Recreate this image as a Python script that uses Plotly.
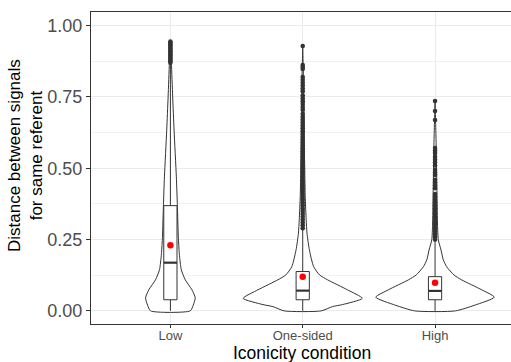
import plotly.graph_objects as go

categories = ["Low", "One-sided", "High"]
q1 = [0.039, 0.039, 0.039]
medians = [0.169, 0.071, 0.070]
q3 = [0.369, 0.138, 0.120]
whisker_low = [0.0, 0.0, 0.0]
whisker_high = [0.865, 0.285, 0.245]
means = [0.230, 0.120, 0.099]

outliers_low = [0.944, 0.940, 0.935, 0.930, 0.925, 0.920, 0.915, 0.910, 0.905,
                0.900, 0.895, 0.890, 0.885, 0.880, 0.875, 0.870]
outliers_one = [0.929, 0.862, 0.855, 0.848, 0.820, 0.810, 0.800, 0.790, 0.780,
                0.770, 0.755, 0.745, 0.735, 0.725, 0.715, 0.705, 0.690, 0.680,
                0.670, 0.660, 0.650, 0.640, 0.630, 0.620, 0.610, 0.600, 0.590,
                0.580, 0.570, 0.560, 0.550, 0.540, 0.530, 0.520, 0.510, 0.500,
                0.490, 0.480, 0.470, 0.460, 0.450, 0.440, 0.430, 0.420, 0.410,
                0.400, 0.390, 0.380, 0.370, 0.360, 0.350, 0.340, 0.330, 0.320,
                0.310, 0.300, 0.290]
outliers_high = [0.736, 0.701, 0.669, 0.571, 0.562, 0.554, 0.540, 0.530, 0.520,
                 0.510, 0.494, 0.485, 0.477, 0.460, 0.450, 0.440, 0.430, 0.410,
                 0.400, 0.390, 0.380, 0.370, 0.360, 0.350, 0.340, 0.330, 0.320,
                 0.310, 0.300, 0.290, 0.280, 0.270, 0.260, 0.250]
outliers = [outliers_low, outliers_one, outliers_high]

# violin profiles: y levels and relative density
violin_y_low = [0.0, 0.02, 0.046, 0.074, 0.109, 0.144, 0.2, 0.26, 0.372, 0.47,
                0.634, 0.75, 0.87, 0.944]
violin_d_low = [20, 23, 25, 21.7, 15, 11, 9, 8, 7, 6, 3.7, 2.3, 1, 0]
violin_y_one = [0.0, 0.015, 0.022, 0.044, 0.074, 0.109, 0.126, 0.155, 0.214,
                0.273, 0.32, 0.4, 0.5, 0.6, 0.7, 0.8, 0.929]
violin_d_one = [18.7, 30, 40, 60, 45, 25, 17, 11, 6.7, 4.3, 3.5, 2.5, 2, 1.5,
                1.2, 0.8, 0]
violin_y_high = [0.0, 0.02, 0.048, 0.074, 0.109, 0.126, 0.155, 0.179, 0.214,
                 0.249, 0.3, 0.4, 0.5, 0.6, 0.736]
violin_d_high = [20.5, 40, 59.7, 47, 26.7, 19, 11.7, 8.3, 6, 3.3, 2.5, 2, 1.5,
                 1, 0]
violin_y = [violin_y_low, violin_y_one, violin_y_high]
violin_d = [violin_d_low, violin_d_one, violin_d_high]

DARK = "#333333"
FONT = "Liberation Sans, Arial, sans-serif"
max_d = max(max(d) for d in violin_d)
half_max = 0.45
box_w = 0.1

fig = go.Figure()

# violins
for i, (ys, ds) in enumerate(zip(violin_y, violin_d)):
    hw = [d / max_d * half_max for d in ds]
    xs = [i + h for h in hw] + [i - h for h in reversed(hw)]
    yy = list(ys) + list(reversed(ys))
    xs.append(xs[0])
    yy.append(yy[0])
    fig.add_trace(go.Scatter(x=xs, y=yy, mode="lines", fill="toself",
                             fillcolor="white",
                             line=dict(color=DARK, width=1, shape="spline",
                                       smoothing=0.6),
                             hoverinfo="skip", showlegend=False))

# boxes (drawn from the box statistics)
for i in range(3):
    # whiskers
    fig.add_trace(go.Scatter(x=[i, i], y=[whisker_low[i], q1[i]], mode="lines",
                             line=dict(color=DARK, width=1),
                             hoverinfo="skip", showlegend=False))
    fig.add_trace(go.Scatter(x=[i, i], y=[q3[i], whisker_high[i]], mode="lines",
                             line=dict(color=DARK, width=1),
                             hoverinfo="skip", showlegend=False))
    # box
    xl, xr = i - box_w / 2, i + box_w / 2
    fig.add_trace(go.Scatter(x=[xl, xr, xr, xl, xl],
                             y=[q1[i], q1[i], q3[i], q3[i], q1[i]],
                             mode="lines", fill="toself", fillcolor="white",
                             line=dict(color=DARK, width=1),
                             hoverinfo="skip", showlegend=False))
    # median
    fig.add_trace(go.Scatter(x=[xl, xr], y=[medians[i], medians[i]],
                             mode="lines", line=dict(color=DARK, width=2.2),
                             hoverinfo="skip", showlegend=False))
    # outliers
    fig.add_trace(go.Scatter(x=[i] * len(outliers[i]), y=outliers[i],
                             mode="markers",
                             marker=dict(color=DARK, size=4.6),
                             hoverinfo="skip", showlegend=False))

# means
fig.add_trace(go.Scatter(x=[0, 1, 2], y=means, mode="markers",
                         marker=dict(color="red", size=6.5),
                         hoverinfo="skip", showlegend=False))

fig.update_layout(
    width=511, height=362,
    margin=dict(l=91, r=0, t=12, b=38),
    paper_bgcolor="white", plot_bgcolor="white",
    font=dict(family=FONT),
    xaxis=dict(range=[-0.6, 2.574], tickvals=[0, 1, 2], ticktext=categories,
               showgrid=True, gridcolor="#EBEBEB", gridwidth=1.1,
               zeroline=False, showline=True, linecolor=DARK, linewidth=1,
               mirror=True, ticks="outside", ticklen=3, tickcolor=DARK,
               ticklabelstandoff=-4,
               tickfont=dict(size=13, color="#4D4D4D", family=FONT)),
    yaxis=dict(range=[-0.046, 1.048], tickvals=[0, 0.25, 0.5, 0.75, 1.0],
               tickformat=".2f", showgrid=True, gridcolor="#EBEBEB",
               gridwidth=1.1, zeroline=False, showline=True, linecolor=DARK,
               linewidth=1, mirror=True, ticks="outside", ticklen=4,
               tickcolor=DARK,
               minor=dict(tickvals=[0.125, 0.375, 0.625, 0.875], showgrid=True,
                          gridcolor="#F2F2F2", gridwidth=0.6, ticks=""),
               tickfont=dict(size=18, color="#4D4D4D", family=FONT)),
    annotations=[
        dict(text="Distance between signals<br>for same referent",
             xref="paper", yref="paper", x=(25 - 91) / 420,
             y=(324 - 156) / 312, xanchor="center", yanchor="middle",
             textangle=-90, showarrow=False,
             font=dict(size=17, color="black", family=FONT)),
        dict(text="Iconicity condition", xref="paper", yref="paper",
             x=(302 - 91) / 420, y=(324 - 353) / 312, xanchor="center",
             yanchor="middle", showarrow=False,
             font=dict(size=17.5, color="black", family=FONT)),
    ],
)

fig.write_html("out.html")
